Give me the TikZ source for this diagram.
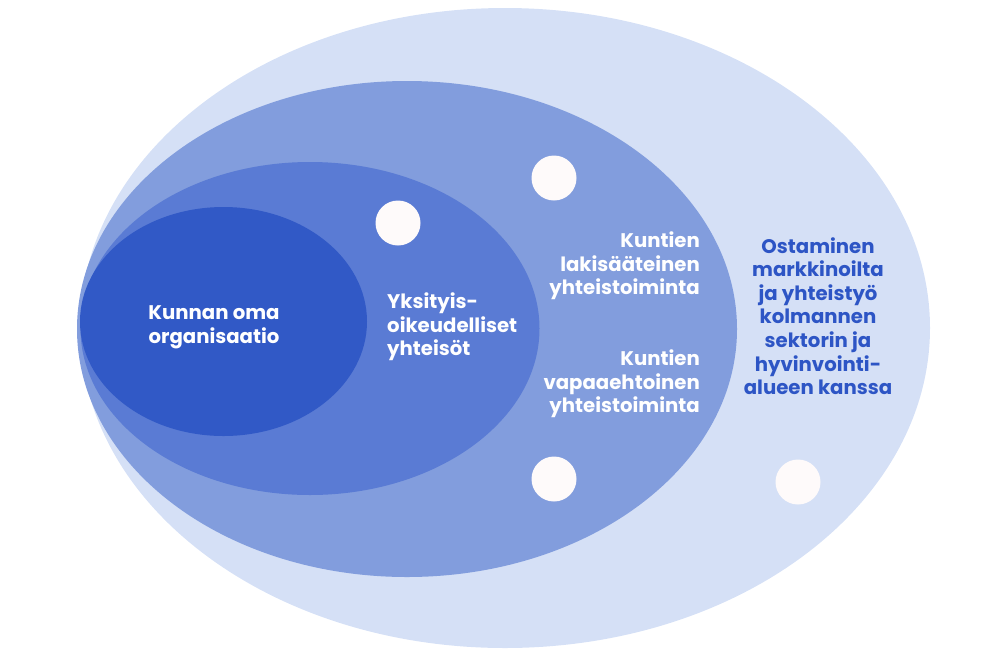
\documentclass[tikz,border=0pt]{standalone}
\usepackage{fontspec}
\setmainfont{Poppins}
\usepackage{tikz}

\definecolor{ringfour}{HTML}{D5E0F6}
\definecolor{ringthree}{HTML}{829DDD}
\definecolor{ringtwo}{HTML}{5A7BD4}
\definecolor{ringone}{HTML}{3159C6}
\definecolor{labelblue}{HTML}{2D55C5}
\definecolor{dotwhite}{HTML}{FEFAFA}

\begin{document}
\begin{tikzpicture}[x=1pt,y=-1pt,
    dot/.style={circle, fill=dotwhite, minimum size=45pt, inner sep=0pt},
    lbl/.style={inner sep=0pt, text=white, font=\bfseries\fontsize{19.7}{23.6}\selectfont}]
      \useasboundingbox (0,0) rectangle (1004,657);
      % nested areas
      \fill [ringfour] (505,328) ellipse [x radius=425, y radius=320];
      \fill [ringthree] (407,329) ellipse [x radius=330, y radius=248];
      \fill [ringtwo] (310,328.5) ellipse [x radius=229.5, y radius=166.5];
      \fill [ringone] (223.5,321.5) ellipse [x radius=143.5, y radius=114.5];
      % dots
      \node [dot] (dotA) at (398,223) {};
      \node [dot] (dotB) at (554,178) {};
      \node [dot] (dotC) at (554,479) {};
      \node [dot] (dotD) at (798,482) {};
      % labels
      \node [lbl, align=center] (oma) at (214,327) {Kunnan oma\\organisaatio};
      \node [lbl, align=left, anchor=west] (yks) at (387,327) {Yksityis-\\oikeudelliset\\yhteisöt};
      \node [lbl, align=right, anchor=east] (laki) at (700,266) {Kuntien\\lakisääteinen\\yhteistoiminta};
      \node [lbl, align=right, anchor=east] (vapaa) at (700,384) {Kuntien\\vapaaehtoinen\\yhteistoiminta};
      \node [lbl, align=center, text=labelblue] (osto) at (818,316) {Ostaminen\\markkinoilta\\ja yhteistyö\\kolmannen\\sektorin ja\\hyvinvointi-\\alueen kanssa};
    \end{tikzpicture}
\end{document}
